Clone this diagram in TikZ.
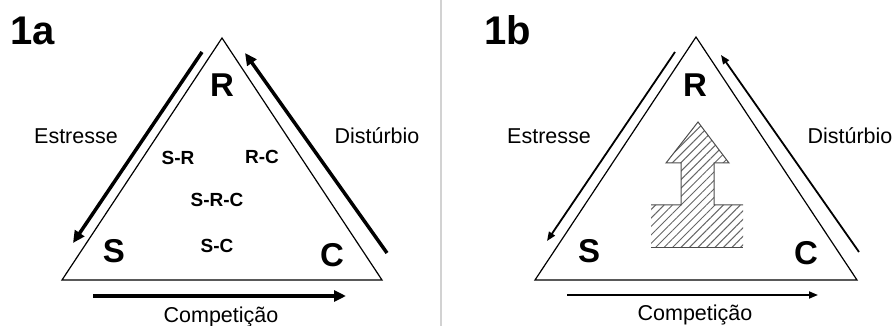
\documentclass[tikz,border=0pt]{standalone}
\usepackage{fontspec}
\setmainfont{Liberation Sans}
\usetikzlibrary{arrows.meta,patterns.meta}

\begin{document}
\begin{tikzpicture}[x=1pt,y=-1pt,
  panel/.style={font=\fontsize{40}{40}\selectfont\bfseries,anchor=base},
  corner/.style={font=\fontsize{33}{33}\selectfont\bfseries,anchor=base},
  force/.style={font=\fontsize{21.5}{21.5}\selectfont,anchor=base},
  mix/.style={font=\fontsize{19}{19}\selectfont\bfseries,anchor=base},
  side/.style={line width=1.2pt,line join=miter},
  bigpush/.style={line width=3.5pt,-{Triangle[length=12pt,width=11pt]}},
  push/.style={line width=1.8pt,-{Triangle[length=9pt,width=7pt]}}]
\useasboundingbox (0,0) rectangle (895,326);
\draw[line width=1.5pt,gray!35] (441,0) -- (441,326);
% 1a
\node[panel] (la) at (33,45) {1a};
\coordinate (ra) at (222,38); \coordinate (sa) at (62,280); \coordinate (ca) at (382,280);
\draw[side] (ra) -- (sa) -- (ca) -- cycle;
\node[corner] (Ra) at (222,97) {R};
\node[corner] (Sa) at (114,262) {S};
\node[corner] (Ca) at (332,266) {C};
\coordinate (e1a) at (202,52); \coordinate (e2a) at (73,243);
\coordinate (d1a) at (387,253); \coordinate (d2a) at (245,53);
\coordinate (c1a) at (93,296); \coordinate (c2a) at (346,296);
\draw[bigpush] (e1a) -- (e2a);
\draw[bigpush] (d1a) -- (d2a);
\draw[bigpush] (c1a) -- (c2a);
\node[force] (ea) at (76,144) {Estresse};
\node[force] (da) at (377,144) {Distúrbio};
\node[force] (ka) at (221,322) {Competição};
\node[mix] (sra) at (178,165) {S-R};
\node[mix] (rca) at (262,164) {R-C};
\node[mix] (srca) at (217,207) {S-R-C};
\node[mix] (sca) at (217,252) {S-C};
% 1b
\node[panel] (lb) at (508,45) {1b};
\coordinate (rb) at (696,37); \coordinate (sb) at (535,280); \coordinate (cb) at (857,280);
\draw[side] (rb) -- (sb) -- (cb) -- cycle;
\node[corner] (Rb) at (695,97) {R};
\node[corner] (Sb) at (589,262) {S};
\node[corner] (Cb) at (806,265) {C};
\coordinate (e1b) at (675,52); \coordinate (e2b) at (547,241);
\coordinate (d1b) at (859,252); \coordinate (d2b) at (721,55);
\coordinate (c1b) at (567,295); \coordinate (c2b) at (818,295);
\draw[push] (e1b) -- (e2b);
\draw[push] (d1b) -- (d2b);
\draw[push] (c1b) -- (c2b);
\node[force] (eb) at (549,144) {Estresse};
\node[force] (db) at (850,144) {Distúrbio};
\node[force] (kb) at (695,320) {Competição};
\fill[pattern={Lines[angle=45,distance=6pt,line width=1pt]},pattern color=gray!80!black]
  (651,205) -- (681,205) -- (681,163) -- (666,163) -- (698,122) -- (729,163)
  -- (714,163) -- (714,205) -- (743,205) -- (743,247) -- (651,247) -- cycle;
\draw[gray!60!black,line width=1pt] (651,205) -- (681,205) -- (681,163) -- (666,163)
  -- (698,122) -- (729,163) -- (714,163) -- (714,205) -- (743,205);
\draw[gray!60!black,line width=1pt] (651,247) -- (743,247);
\end{tikzpicture}
\end{document}
